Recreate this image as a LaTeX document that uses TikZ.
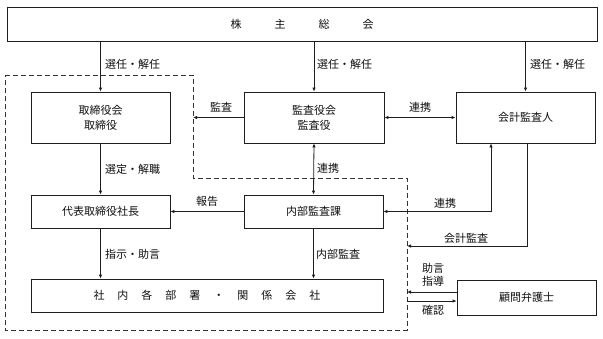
\documentclass[tikz,border=0pt]{standalone}
\usepackage{fontspec}
\setmainfont{Noto Sans CJK JP}
\usepackage{xcolor}
\usepackage{tikz}
\usetikzlibrary{
  arrows.meta,
  positioning,
  calc
}
\definecolor{OrgLine}{HTML}{1E1E1E}
\definecolor{OrgText}{HTML}{111111}
\definecolor{OrgDash}{HTML}{333333}
\newcommand{\gap}[1]{\hspace{#1}}

\tikzset{
  orgbox/.style={draw=OrgLine,line width=0.8pt,inner sep=0pt,align=center,
    text=OrgText,font=\fontsize{11}{15}\selectfont},
  orglabel/.style={inner sep=0pt,text=OrgText,align=center,
    font=\fontsize{11}{13}\selectfont},
  orgarrow/.style={draw=OrgLine,line width=0.8pt,-{Latex[length=4pt,width=3.5pt]}},
  orgboth/.style={draw=OrgLine,line width=0.8pt,
    {Latex[length=4pt,width=3.5pt]}-{Latex[length=4pt,width=3.5pt]}},
  orgdash/.style={draw=OrgDash,line width=1pt,dash pattern=on 5pt off 3pt}
}

\begin{document}
\begin{tikzpicture}[x=1pt,y=-1pt]
    \useasboundingbox[fill=white] (0,0) rectangle (603,338);

    % boxes
    \node[orgbox,minimum width=590pt,minimum height=34pt] (kabu) at (302,24)
      {株\gap{33pt}主\gap{33pt}総\gap{33pt}会};
    \node[orgbox,minimum width=139pt,minimum height=51pt] (tori) at (100.5,117.5)
      {取締役会\\取締役};
    \node[orgbox,minimum width=140pt,minimum height=51pt] (kansa) at (314,117.5)
      {監査役会\\監査役};
    \node[orgbox,minimum width=139pt,minimum height=51pt] (kaikei) at (525.5,117.5)
      {会計監査人};
    \node[orgbox,minimum width=139pt,minimum height=33pt] (daihyo) at (100.5,211.5)
      {代表取締役社長};
    \node[orgbox,minimum width=139pt,minimum height=33pt] (naibu) at (313.5,211.5)
      {内部監査課};
    \node[orgbox,minimum width=352pt,minimum height=33pt] (shanai) at (207,295.5)
      {社\gap{13pt}内\gap{13pt}各\gap{13pt}部\gap{13pt}署\gap{13pt}・\gap{13pt}関\gap{13pt}係\gap{13pt}会\gap{13pt}社};
    \node[orgbox,minimum width=139pt,minimum height=35pt] (komon) at (526.5,297.5)
      {顧問弁護士};

    % dashed company frame
    \coordinate (fTL) at (5,75);
    \coordinate (fTR) at (193,75);
    \coordinate (fMid) at (193,178);
    \coordinate (fStep) at (407,178);
    \coordinate (fBR) at (407,330);
    \coordinate (fBL) at (5,330);
    \draw[orgdash] (fTL) -- (fTR) -- (fMid) -- (fStep) -- (fBR) -- (fBL) -- cycle;

    % connectors
    \draw[orgarrow] (kabu.south -| tori.north) -- (tori.north);
    \draw[orgarrow] (kabu.south -| kansa.north) -- (kansa.north);
    \draw[orgarrow] (kabu.south -| kaikei.north) -- (kaikei.north);
    \draw[orgarrow] (kansa.west) -- (kansa.west -| fTR);
    \draw[orgboth] (kansa.east) -- (kaikei.west);
    \draw[orgarrow] (tori.south) -- (daihyo.north);
    \draw[orgboth] (kansa.south) -- (naibu.north);
    \draw[orgarrow] (naibu.west) -- (daihyo.east);
    \draw[orgboth] ([xshift=-34.5pt]kaikei.south) |- (naibu.east);
    \coordinate (auditEnd) at (407,246);
    \draw[orgarrow] ([xshift=1.5pt]kaikei.south) |- (auditEnd);
    \draw[orgarrow] (daihyo.south) -- (daihyo.south |- shanai.north);
    \draw[orgarrow] (naibu.south) -- (naibu.south |- shanai.north);
    \draw[orgarrow] ([yshift=5.5pt]komon.west) -- ([yshift=5.5pt]komon.west -| fBR);
    \draw[orgarrow] ([yshift=-3.5pt]komon.west -| fBR) -- ([yshift=-3.5pt]komon.west);

    % labels
    \node[orglabel,anchor=west] (lblTori) at (105,64) {選任・解任};
    \node[orglabel,anchor=west] (lblKansa) at (317,64) {選任・解任};
    \node[orglabel,anchor=west] (lblKaikei) at (530,64) {選任・解任};
    \node[orglabel] (lblAudit) at (221,107) {監査};
    \node[orglabel] (lblLinkTop) at (420,107) {連携};
    \node[orglabel,anchor=west] (lblSelect) at (105,169) {選定・解職};
    \node[orglabel,anchor=west] (lblLinkMid) at (317,168) {連携};
    \node[orglabel] (lblReport) at (207,201) {報告};
    \node[orglabel] (lblLinkRight) at (445,203) {連携};
    \node[orglabel] (lblAcct) at (466,238) {会計監査};
    \node[orglabel,anchor=west] (lblDirect) at (105,254) {指示・助言};
    \node[orglabel,anchor=west] (lblInternal) at (316,254) {内部監査};
    \node[orglabel] (lblAdvice) at (433,275) {助言\\指導};
    \node[orglabel] (lblConfirm) at (433,310) {確認};
  \end{tikzpicture}
\end{document}
